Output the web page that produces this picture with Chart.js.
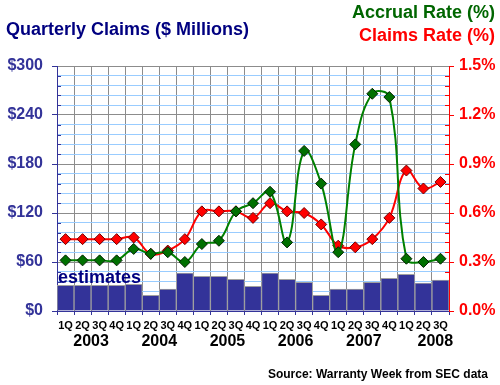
<!DOCTYPE html>
<html>
<head>
<meta charset="utf-8">
<script src="https://cdn.jsdelivr.net/npm/chart.js@4/dist/chart.umd.min.js"></script>
<style>
  body { margin: 0; background: #fff; }
  #wrap { position: relative; width: 500px; height: 385px; font-family: Arial, "Liberation Sans", sans-serif; font-weight: bold; }
  #wrap div { position: absolute; line-height: 1; white-space: nowrap; }
  #title { left: 6px; top: 20px; font-size: 18px; color: #000080; }
  #accrual { right: 5px; top: 3px; font-size: 18px; color: #006600; }
  #claims { right: 5px; top: 26px; font-size: 18px; color: #ff0000; }
  #source { right: 12px; top: 368px; font-size: 12px; color: #000; }
  #est { left: 58px; top: 268px; font-size: 18px; color: #000080; }
</style>
</head>
<body>
<div id="wrap">
  <canvas id="chart" width="500" height="385"></canvas>
  <div id="title">Quarterly Claims ($ Millions)</div>
  <div id="accrual">Accrual Rate (%)</div>
  <div id="claims">Claims Rate (%)</div>
  <div id="est">estimates</div>
  <div id="source">Source: Warranty Week from SEC data</div>
</div>
<script>
// kuartal 2003 Q1 .. 2008 Q3
const quarters = ['1Q','2Q','3Q','4Q','1Q','2Q','3Q','4Q','1Q','2Q','3Q','4Q',
                  '1Q','2Q','3Q','4Q','1Q','2Q','3Q','4Q','1Q','2Q','3Q'];
const years = ['2003','2004','2005','2006','2007','2008'];
const yearPos = [1.5, 5.5, 9.5, 13.5, 17.5, 21.7]; // posisi label tahun (indeks kategori)

// klaim per kuartal ($ juta)
const claims = [31.4, 31.4, 31.4, 31.4, 32.6, 19.2, 26.9, 46.5, 42.4, 42.4, 38.7, 30.2,
                46.5, 38.7, 35.1, 19.2, 26.9, 26.9, 35.1, 40.0, 44.8, 34.2, 37.9];
// accrual rate (%)
const accrualRate = [0.31, 0.31, 0.31, 0.31, 0.38, 0.35, 0.36, 0.30, 0.41, 0.43, 0.61, 0.66,
                     0.73, 0.42, 0.98, 0.78, 0.36, 1.02, 1.33, 1.31, 0.32, 0.30, 0.32];
// claims rate (%)
const claimsRate = [0.44, 0.44, 0.44, 0.44, 0.45, 0.35, 0.37, 0.44, 0.61, 0.61, 0.61, 0.57,
                    0.66, 0.61, 0.60, 0.53, 0.40, 0.39, 0.44, 0.57, 0.86, 0.75, 0.79];

const leftTicks = [0, 60, 120, 180, 240, 300];
const rightTicks = [0, 0.3, 0.6, 0.9, 1.2, 1.5];

const isMajor = (v, step) => Math.abs(v / step - Math.round(v / step)) < 1e-6;

// tick kecil di dalam sumbu kiri dan kanan
const innerTicks = {
  id: 'innerTicks',
  beforeDatasetsDraw(chart) {
    const { ctx, chartArea, scales } = chart;
    ctx.save();
    ctx.lineWidth = 1;
    ctx.strokeStyle = '#333399';
    scales.y.ticks.forEach(t => {
      if (isMajor(t.value, 60)) return;
      const py = Math.round(scales.y.getPixelForValue(t.value)) + 0.5;
      ctx.beginPath(); ctx.moveTo(chartArea.left, py); ctx.lineTo(chartArea.left + 4, py); ctx.stroke();
    });
    ctx.strokeStyle = '#ff0000';
    scales.y2.ticks.forEach(t => {
      if (isMajor(t.value, 0.3)) return;
      const py = Math.round(scales.y2.getPixelForValue(t.value)) + 0.5;
      ctx.beginPath(); ctx.moveTo(chartArea.right - 4, py); ctx.lineTo(chartArea.right, py); ctx.stroke();
    });
    ctx.restore();
  }
};

// label tahun di bawah label kuartal
const yearLabels = {
  id: 'yearLabels',
  afterDraw(chart) {
    const { ctx, scales } = chart;
    ctx.save();
    ctx.font = 'bold 16px Arial';
    ctx.fillStyle = '#000';
    ctx.textAlign = 'center';
    ctx.textBaseline = 'middle';
    years.forEach((y, i) => ctx.fillText(y, scales.x.getPixelForValue(yearPos[i]), 342));
    ctx.restore();
  }
};

const ctx = document.getElementById('chart').getContext('2d');
new Chart(ctx, {
  type: 'bar',
  data: {
    labels: quarters,
    datasets: [
      {
        type: 'line',
        label: 'Accrual Rate (%)',
        data: accrualRate,
        yAxisID: 'y2',
        borderColor: '#008000',
        borderWidth: 2,
        tension: 0.4,
        pointStyle: 'rectRot',
        pointRadius: 5.5,
        pointBackgroundColor: '#007000',
        pointBorderColor: '#002200',
        pointBorderWidth: 1,
        order: 1
      },
      {
        type: 'line',
        label: 'Claims Rate (%)',
        data: claimsRate,
        yAxisID: 'y2',
        borderColor: '#ff0000',
        borderWidth: 2,
        tension: 0.4,
        pointStyle: 'rectRot',
        pointRadius: 5.5,
        pointBackgroundColor: '#ff0000',
        pointBorderColor: '#700000',
        pointBorderWidth: 1,
        order: 2
      },
      {
        label: 'Quarterly Claims',
        data: claims,
        yAxisID: 'y',
        backgroundColor: '#333399',
        borderColor: '#a0a0a0',
        borderWidth: 1,
        borderSkipped: 'bottom',
        categoryPercentage: 1,
        barPercentage: 1,
        order: 3
      }
    ]
  },
  options: {
    responsive: false,
    animation: false,
    layout: { padding: { top: 66, left: 0, right: 0, bottom: 0 } },
    plugins: { legend: { display: false }, tooltip: { enabled: false } },
    scales: {
      x: {
        position: 'bottom',
        afterFit: s => { s.height = 74; },
        grid: { color: '#8c8c8c', offset: true, tickLength: 4, tickColor: '#333399' },
        border: { color: '#333399', width: 1 },
        ticks: { color: '#000', font: { family: 'Arial', size: 11, weight: 'bold' }, padding: 4, maxRotation: 0, autoSkip: false }
      },
      y: {
        position: 'left',
        min: 0,
        max: 300,
        afterFit: s => { s.width = 57; },
        ticks: {
          stepSize: 12,
          autoSkip: false,
          color: '#333399',
          padding: 9,
          font: { family: 'Arial', size: 16, weight: 'bold' },
          callback: v => leftTicks.includes(v) ? '$' + v : ''
        },
        grid: {
          tickLength: 5,
          color: c => isMajor(c.tick.value, 60) ? '#8c8c8c' : '#99ccff',
          tickColor: c => isMajor(c.tick.value, 60) ? '#333399' : 'rgba(0,0,0,0)'
        },
        border: { color: '#333399', width: 1 }
      },
      y2: {
        position: 'right',
        min: 0,
        max: 1.5,
        afterFit: s => { s.width = 51; },
        ticks: {
          stepSize: 0.06,
          autoSkip: false,
          color: '#ff0000',
          padding: 5,
          font: { family: 'Arial', size: 16, weight: 'bold' },
          callback: v => rightTicks.some(r => Math.abs(r - v) < 1e-6) ? v.toFixed(1) + '%' : ''
        },
        grid: {
          drawOnChartArea: false,
          tickLength: 5,
          tickColor: c => isMajor(c.tick.value, 0.3) ? '#ff0000' : 'rgba(0,0,0,0)'
        },
        border: { color: '#ff0000', width: 1 }
      }
    }
  },
  plugins: [innerTicks, yearLabels]
});
</script>
</body>
</html>
